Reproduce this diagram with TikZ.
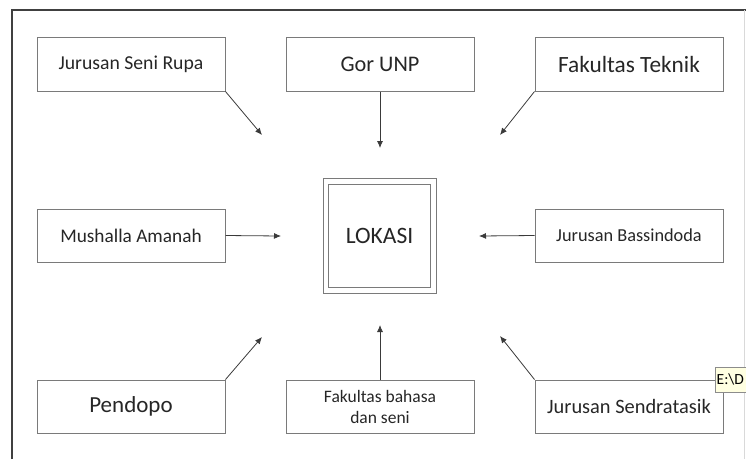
\documentclass[tikz,border=0pt]{standalone}
\usepackage{fontspec}
\setmainfont{Carlito}
\usepackage{xcolor}
\usepackage{tikz}
\usetikzlibrary{calc,arrows.meta}

\definecolor{boxline}{HTML}{7A7A7A}
\definecolor{arrowline}{HTML}{3A3A3A}
\definecolor{tipfill}{HTML}{FFFFE1}

\begin{document}
\begin{tikzpicture}[
        x=1pt, y=-1pt,
        placebox/.style={
            rectangle, draw=boxline, line width=1pt,
            minimum width=188pt, minimum height=54pt, inner sep=2pt,
            align=center, text=black!85
        },
        lokasibox/.style={
            rectangle, draw=boxline, line width=1pt,
            minimum width=113pt, minimum height=115pt,
            text=black!85
        },
        toarrow/.style={draw=arrowline, line width=0.8pt, -{Latex[length=7pt,width=6pt]}}
    ]

    \useasboundingbox (0,0) rectangle (746,459);

    % bingkai gambar
    \draw[line width=1.5pt, black!75] (12,459) -- (12,10) -- (746,10);
    \draw[line width=0.8pt, black!15] (744,10) -- (744,459);

    % baris atas
    \node[placebox, font=\fontsize{19.7}{23}\selectfont] (senirupa) at (131,64) {Jurusan Seni Rupa};
    \node[placebox, font=\fontsize{22.3}{26}\selectfont] (gor) at (380,64) {Gor UNP};
    \node[placebox, font=\fontsize{23.3}{27}\selectfont] (teknik) at (629,64) {Fakultas Teknik};

    % baris tengah
    \node[placebox, minimum height=53pt, font=\fontsize{19.3}{23}\selectfont] (mushalla) at (131,235.5) {Mushalla Amanah};
    \node[lokasibox, font=\fontsize{23.5}{27}\selectfont] (lokasi) at (379.5,235.5) {LOKASI};
    \draw[boxline, line width=1pt] ($(lokasi.north west)+(6,7)$) rectangle ($(lokasi.south east)+(-6,-6)$);
    \node[placebox, minimum height=53pt, font=\fontsize{18.3}{22}\selectfont] (bassindoda) at (629,235.5) {Jurusan Bassindoda};

    % baris bawah
    \node[placebox, minimum height=53pt, font=\fontsize{23}{27}\selectfont] (pendopo) at (131,406.5) {Pendopo};
    \node[placebox, minimum height=53pt, font=\fontsize{17.5}{21}\selectfont] (fbs) at (380,406.5) {Fakultas bahasa\\dan seni};
    \node[placebox, minimum height=53pt, font=\fontsize{20.4}{24}\selectfont] (sendratasik) at (629,406.5) {Jurusan Sendratasik};

    % ujung panah (tidak menyentuh kotak lokasi)
    \coordinate (tsenirupa) at (262,135);
    \coordinate (tgor) at (380,148);
    \coordinate (tteknik) at (500,135);
    \coordinate (tmushalla) at (281,236);
    \coordinate (tbassindoda) at (479,236);
    \coordinate (tpendopo) at (262,337);
    \coordinate (tfbs) at (380,325);
    \coordinate (tsendratasik) at (500,336);

    \draw[toarrow] (senirupa.south east) -- (tsenirupa);
    \draw[toarrow] (gor.south) -- (tgor);
    \draw[toarrow] (teknik.south west) -- (tteknik);
    \draw[toarrow] (mushalla.east) -- (tmushalla);
    \draw[toarrow] (bassindoda.west) -- (tbassindoda);
    \draw[toarrow] (pendopo.north east) -- (tpendopo);
    \draw[toarrow] (fbs.north) -- (tfbs);
    \draw[toarrow] (sendratasik.north west) -- (tsendratasik);

    % tooltip di tepi kanan
    \begin{scope}
        \clip (0,0) rectangle (746,459);
        \draw[draw=black!45, fill=tipfill, line width=0.8pt] (715,367) rectangle (760,392);
        \node[anchor=west, inner sep=0pt, text=black, font=\fontsize{15.5}{18}\selectfont]
            (tooltip) at (716.5,379.5) {E:\textbackslash D};
    \end{scope}

\end{tikzpicture}
\end{document}
